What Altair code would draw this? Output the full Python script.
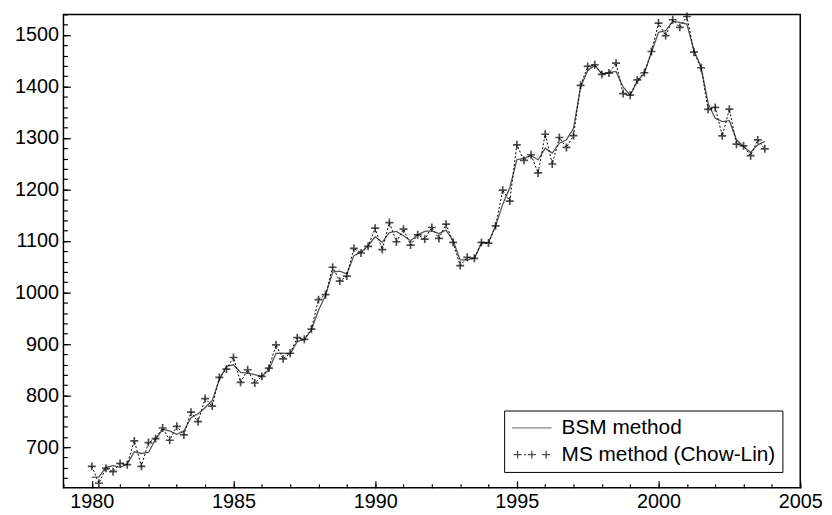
import altair as alt
import pandas as pd

# ---------------- data ----------------
start_year = 1980
n_quarters = 96
quarters = [start_year + q / 4 for q in range(n_quarters)]

bsm = [641, 642, 660.6, 663.9, 660.6, 667, 690.8, 687.6, 689.5, 715.2,
       734.5, 731.3, 724.9, 731.3, 757, 764.7, 776.3, 790.4, 830.9, 856.6,
       859.8, 845, 843.7, 840.5, 837.3, 850.1, 882, 882.2, 880.9, 904.7,
       909.2, 927.2, 965.7, 994.6, 1039.6, 1041.5, 1036.4, 1071.7, 1078.1, 1091,
       1108.3, 1097.4, 1116.6, 1118.6, 1110.2, 1100.6, 1112.1, 1118.6, 1119.9, 1114.7,
       1121.1, 1100.6, 1063.3, 1063.3, 1066.5, 1095.4, 1097.4, 1129.5, 1171.2, 1203.3,
       1257.9, 1261.1, 1265.6, 1257.9, 1280.4, 1270.8, 1290, 1296.5, 1319, 1399.2,
       1431.3, 1441, 1424.9, 1426.8, 1429.4, 1399.2, 1383.2, 1410, 1426, 1466.7,
       1505.2, 1508.4, 1526.4, 1524.5, 1521.3, 1469.9, 1437.8, 1367.1, 1338.2, 1331.8,
       1333.7, 1296.5, 1283.6, 1272.1, 1286.8, 1293.3]

ms = [662.6, 629.8, 658.7, 652.3, 668.4, 665.8, 712, 662.6, 708.8, 716.5,
      737, 713.3, 740.3, 723.6, 767.9, 749.3, 794.2, 779.5, 835.4, 851.4,
      873.9, 825.7, 850.1, 824.4, 837.3, 853.3, 898.3, 871.3, 882.2, 912.4,
      909.2, 929.1, 986.3, 995.9, 1049.2, 1022.2, 1031.9, 1085.8, 1076.8, 1089.7,
      1125, 1083.3, 1135.9, 1098.7, 1123.1, 1092.2, 1112.1, 1103.8, 1126.3, 1105.1,
      1132.7, 1097.4, 1052.4, 1068.4, 1066.5, 1097.4, 1096.1, 1129.5, 1198.8, 1177.6,
      1286.8, 1256.6, 1267.5, 1232.2, 1307.4, 1249.6, 1301, 1281.7, 1304.8, 1402.4,
      1439, 1442.3, 1423.6, 1426.2, 1445.5, 1386.4, 1383.2, 1412.8, 1426.8, 1468,
      1523.2, 1498.8, 1529.6, 1514.9, 1536, 1466.7, 1436.5, 1355.6, 1359.4, 1304.2,
      1356.2, 1288.1, 1284.9, 1265.7, 1296.5, 1279.1]

series_names = ["BSM method", "MS method (Chow-Lin)"]
x_domain = [1979, 2005]
y_domain = [621, 1540]
x_ticks_major = [1980, 1985, 1990, 1995, 2000, 2005]
x_ticks_minor = list(range(1979, 2006))
y_ticks_major = list(range(700, 1501, 100))
y_ticks_minor = list(range(640, 1541, 20))

df = pd.DataFrame({"t": quarters, "bsm": bsm, "ms": ms})
legend_df = pd.DataFrame({"series": series_names})

# ---------------- styles ----------------
FONT = "Liberation Sans"
PLUS = "M-1,0H1M0,-1V1"
BSM_SYM = "M-1,0H1"
centers = (-0.72, 0.0, 0.72)
parts = []
for c in centers:
    parts.append(f"M{c-0.2:.2f},0H{c+0.2:.2f}M{c:.2f},-0.2V0.2")
x = -1.0
while x < 1.0:
    if all(abs(x + 0.05 - c) > 0.3 for c in centers):
        parts.append(f"M{x:.2f},0H{x+0.1:.2f}")
    x += 0.2
MS_SYM = "".join(parts)

xs = alt.Scale(domain=x_domain, nice=False, zero=False)
ys = alt.Scale(domain=y_domain, nice=False, zero=False)

common = dict(grid=False, domain=False, title=None, tickColor="black", tickWidth=1.2)

major_x = alt.Axis(values=x_ticks_major, orient="bottom", tickSize=7, offset=-7,
                   labelPadding=4, format="d", labelFlush=False, labelOverlap=False,
                   labelFontSize=20, labelFont=FONT, labelColor="black", **common)
minor_x = alt.Axis(values=x_ticks_minor, orient="bottom", tickSize=4, offset=-4,
                   labels=False, **common)
major_y = alt.Axis(values=y_ticks_major, orient="left", tickSize=7, offset=-7,
                   labelPadding=5, format="d", labelFlush=False, labelOverlap=False,
                   labelFontSize=20, labelFont=FONT, labelColor="black", **common)
minor_y = alt.Axis(values=y_ticks_minor, orient="left", tickSize=4, offset=-4,
                   labels=False, **common)

bsm_line = alt.Chart(df).mark_line(color="#555555", strokeWidth=1.3).encode(
    x=alt.X("t:Q", scale=xs, axis=major_x),
    y=alt.Y("bsm:Q", scale=ys, axis=major_y),
)

ms_line = alt.Chart(df).mark_line(color="black", strokeWidth=1, strokeDash=[2, 2]).encode(
    x=alt.X("t:Q", scale=xs, axis=minor_x),
    y=alt.Y("ms:Q", scale=ys, axis=minor_y),
)

ms_points = alt.Chart(df).mark_point(shape=PLUS, size=64, filled=False,
                                     color="black", strokeWidth=1.7).encode(
    x=alt.X("t:Q", scale=xs, axis=None),
    y=alt.Y("ms:Q", scale=ys, axis=None),
)

leg = alt.Legend(title=None, orient="none", legendX=445, legendY=400,
                 strokeColor="black", fillColor="white", padding=7,
                 labelFontSize=21, labelFont=FONT, labelColor="black", labelLimit=500,
                 symbolSize=1600, clipHeight=21, rowPadding=5, labelOffset=9,
                 symbolStrokeWidth=1.3, cornerRadius=0)

legend_layer = alt.Chart(legend_df).transform_filter("false").mark_point(
    filled=False, strokeWidth=1.3).encode(
    color=alt.Color("series:N", scale=alt.Scale(domain=series_names,
                                                range=["#555555", "black"]), legend=leg),
    shape=alt.Shape("series:N", scale=alt.Scale(domain=series_names,
                                                range=[BSM_SYM, MS_SYM]), legend=leg),
)

chart = alt.layer(bsm_line, ms_line, ms_points, legend_layer).resolve_axis(
    x="independent", y="independent"
).properties(
    width=744, height=478,
    padding={"left": 56, "top": 4, "right": 24, "bottom": 24},
    autosize=alt.AutoSizeParams(type="none"),
).configure(
    font=FONT, background="white"
).configure_view(
    stroke="black", strokeWidth=1.5
)

chart.save("out.html", embed_options={"renderer": "svg", "actions": False})
